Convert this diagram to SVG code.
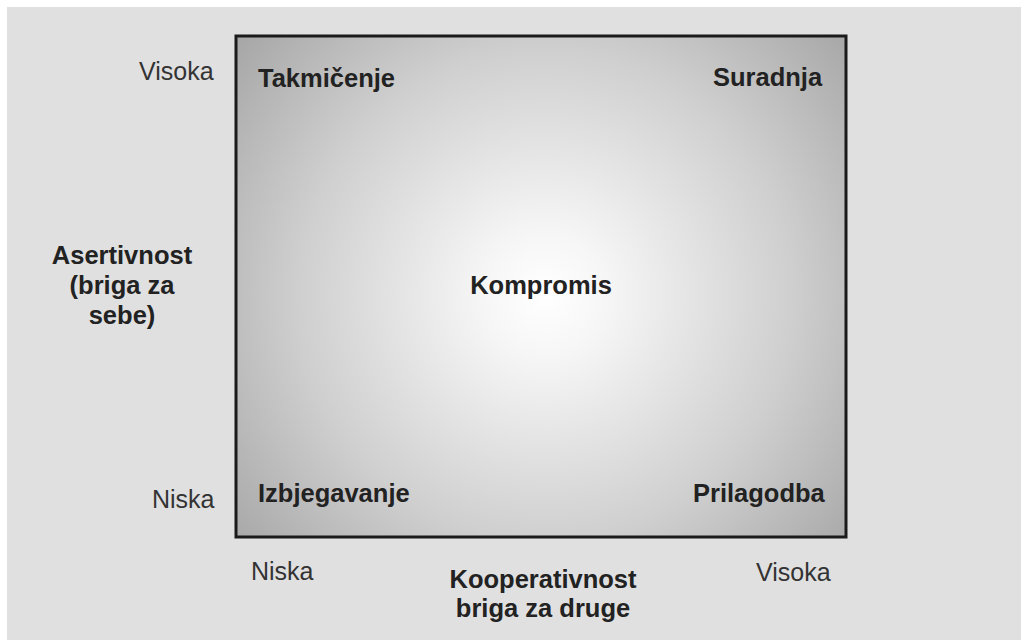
<svg xmlns="http://www.w3.org/2000/svg" width="1021" height="640" viewBox="0 0 1021 640">
<style>
.lbl{font-family:"Liberation Sans",Arial,sans-serif;font-size:25.5px;font-weight:bold;fill:#222}
.axis{font-family:"Liberation Sans",Arial,sans-serif;font-size:25px;fill:#333}
.mid{text-anchor:middle}
</style>
<defs>
<radialGradient id="g" gradientUnits="userSpaceOnUse" cx="545" cy="295" r="410">
<stop offset="0" stop-color="#ffffff"/>
<stop offset="0.15" stop-color="#f6f6f6"/>
<stop offset="0.6" stop-color="#cfcfcf"/>
<stop offset="1" stop-color="#a4a4a4"/>
</radialGradient>
</defs>
<rect x="0" y="0" width="1021" height="640" fill="#ffffff"/>
<rect x="7" y="7" width="1014" height="633" fill="#e0e0e0"/>
<g id="matrix">
<rect x="236" y="36" width="610" height="501" fill="url(#g)" stroke="#1a1a1a" stroke-width="3"/>
</g>
<g id="node-takmicenje"><text class="lbl" x="258" y="87">Takmičenje</text></g>
<g id="node-suradnja"><text class="lbl" x="713" y="86">Suradnja</text></g>
<g id="node-kompromis"><text class="lbl mid" x="541" y="294">Kompromis</text></g>
<g id="node-izbjegavanje"><text class="lbl" x="258" y="502">Izbjegavanje</text></g>
<g id="node-prilagodba"><text class="lbl" x="693" y="502">Prilagodba</text></g>
<g id="axis-y">
<text class="axis" x="139" y="80">Visoka</text>
<text class="axis" x="152" y="508">Niska</text>
<text class="lbl mid" x="122" y="264">Asertivnost</text>
<text class="lbl mid" x="122" y="294">(briga za</text>
<text class="lbl mid" x="122" y="324">sebe)</text>
</g>
<g id="axis-x">
<text class="axis" x="251" y="580">Niska</text>
<text class="axis" x="756" y="581">Visoka</text>
<text class="lbl mid" x="543" y="588">Kooperativnost</text>
<text class="lbl mid" x="543" y="617">briga za druge</text>
</g>
<g id="connectors"></g>
</svg>
